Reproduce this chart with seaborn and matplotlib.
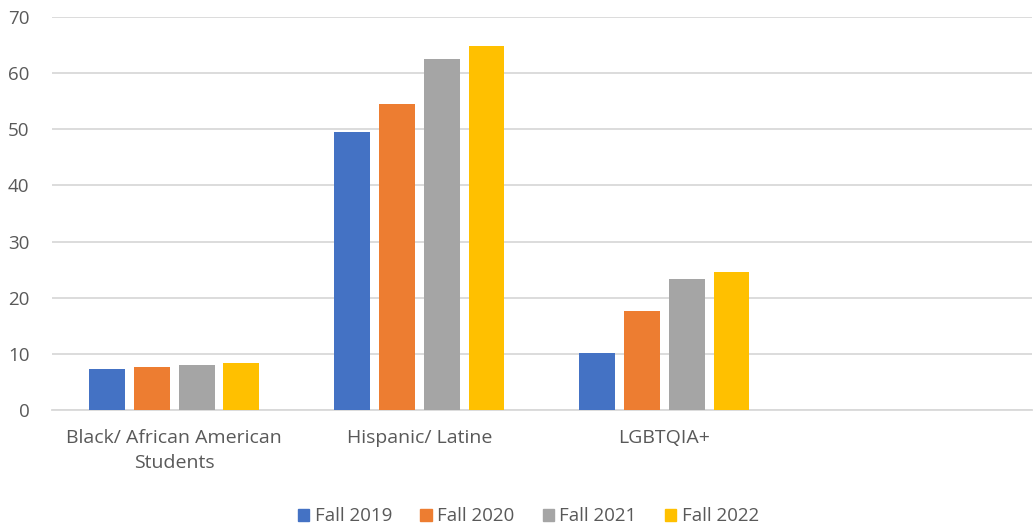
import matplotlib
matplotlib.use("Agg")
import matplotlib.pyplot as plt
import seaborn as sns
import pandas as pd

categories = ["Black/ African American\nStudents", "Hispanic/ Latine", "LGBTQIA+"]
series = ["Fall 2019", "Fall 2020", "Fall 2021", "Fall 2022"]
fall_2019 = [7.3, 49.5, 10.1]
fall_2020 = [7.7, 54.5, 17.6]
fall_2021 = [8.0, 62.5, 23.4]
fall_2022 = [8.4, 64.9, 24.5]
colors = ["#4472C4", "#ED7D31", "#A5A5A5", "#FFC000"]
yticks = [0, 10, 20, 30, 40, 50, 60, 70]

rows = []
for s, vals in zip(series, [fall_2019, fall_2020, fall_2021, fall_2022]):
    for c, v in zip(categories, vals):
        rows.append({"category": c, "series": s, "value": v})
df = pd.DataFrame(rows)

sns.set_theme(style="white")
plt.rcParams["font.family"] = ["Open Sans", "DejaVu Sans"]
text_color = "#595959"

fig = plt.figure(figsize=(10.36, 5.29), dpi=100)
ax = fig.add_axes([0.050, 0.225, 0.946, 0.743])

sns.barplot(data=df, x="category", y="value", hue="series", order=categories,
            hue_order=series, palette=colors, width=0.73, gap=0.2,
            saturation=1, errorbar=None, ax=ax, zorder=3, linewidth=0)

ax.set_xlim(-0.5, 3.5)
ax.set_ylim(0, 70)
ax.set_yticks(yticks)
ax.set_yticklabels([str(t) for t in yticks])
ax.yaxis.grid(True, color="#D9D9D9", linewidth=1.3, zorder=0)
ax.set_axisbelow(True)
for sp in ["top", "right", "left"]:
    ax.spines[sp].set_visible(False)
ax.spines["bottom"].set_color("#D9D9D9")
ax.spines["bottom"].set_linewidth(1.3)
ax.tick_params(axis="both", length=0, colors=text_color)
ax.tick_params(axis="y", pad=16, labelsize=13.5)
ax.tick_params(axis="x", pad=14, labelsize=14)
for lab in ax.get_xticklabels():
    lab.set_linespacing(1.5)
ax.set_xlabel("")
ax.set_ylabel("")

ax.legend_.remove()
handles = [plt.Rectangle((0, 0), 1, 1, color=c) for c in colors]
leg = fig.legend(handles, series, loc="lower center", bbox_to_anchor=(0.51, -0.025),
                 ncol=4, frameon=False, fontsize=13.5, handlelength=0.6,
                 handleheight=0.6, handletextpad=0.3, columnspacing=1.5)
for t in leg.get_texts():
    t.set_color(text_color)

fig.savefig("out.png", dpi=100)
